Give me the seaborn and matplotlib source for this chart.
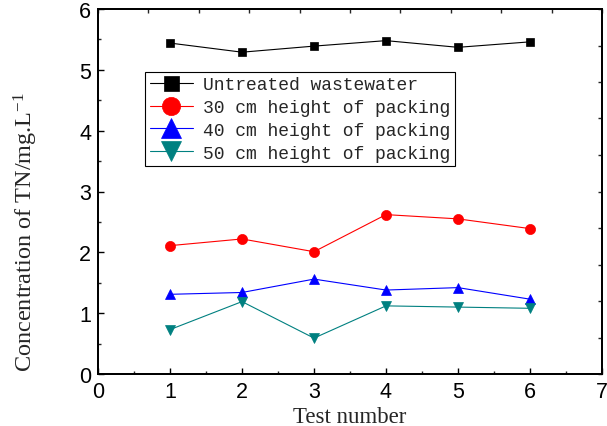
import numpy as np
import pandas as pd
import matplotlib
matplotlib.use("Agg")
import matplotlib.pyplot as plt
import seaborn as sns
from matplotlib.ticker import MultipleLocator
from matplotlib.font_manager import FontProperties

# ---- data ----
test_number = [1, 2, 3, 4, 5, 6]
untreated = [5.44, 5.29, 5.39, 5.48, 5.37, 5.46]
packing_30 = [2.11, 2.22, 2.01, 2.62, 2.55, 2.39]
packing_40 = [1.31, 1.34, 1.56, 1.38, 1.42, 1.23]
packing_50 = [0.73, 1.19, 0.59, 1.12, 1.10, 1.08]
series_labels = ["Untreated wastewater", "30 cm height of packing",
                 "40 cm height of packing", "50 cm height of packing"]
x_ticks = [0, 1, 2, 3, 4, 5, 6, 7]
y_ticks = [0, 1, 2, 3, 4, 5, 6]
x_label = "Test number"
y_label = r"Concentration of TN/mg.L$^{\mathregular{-1}}$"

# ---- style ----
sns.set_style("ticks")
plt.rcParams["font.family"] = ["Liberation Sans", "DejaVu Sans"]
plt.rcParams["mathtext.default"] = "regular"

W, H = 607, 427
fig = plt.figure(figsize=(W / 100, H / 100), dpi=100)
L, R, T, B = 98, 602, 10, 375
ax = fig.add_axes([L / W, 1 - B / H, (R - L) / W, (B - T) / H])

colors = ["#000000", "#FF0000", "#0000FF", "#008080"]
markers = ["s", "o", "^", "v"]
msizes = [6, 7.3, 7.8, 7.8]
series = [untreated, packing_30, packing_40, packing_50]

for vals, lab, c, m, ms in zip(series, series_labels, colors, markers, msizes):
    sns.lineplot(x=test_number, y=vals, ax=ax, color=c, marker=m,
                 markersize=ms, markeredgecolor=c, markeredgewidth=0.5,
                 linewidth=0.8, label=lab)

ax.set_xlim(0, 7)
ax.set_ylim(0, 6)
ax.set_xticks(x_ticks)
ax.set_yticks(y_ticks)
ax.xaxis.set_minor_locator(MultipleLocator(0.5))
ax.yaxis.set_minor_locator(MultipleLocator(0.5))
ax.tick_params(which="major", direction="in", length=4.5, width=1.0,
               labelsize=15.5, pad=5, top=False, right=False, colors="black")
ax.tick_params(which="minor", direction="in", length=2, width=1.0,
               top=False, right=False)
for s in ax.spines.values():
    s.set_visible(True)
    s.set_linewidth(1.2)
    s.set_color("black")

ax.set_xlabel(x_label, fontfamily="Liberation Serif", fontsize=16.5)
ax.set_ylabel(y_label, fontfamily="Liberation Serif", fontsize=17.5)
ax.xaxis.label.set_va("baseline")
ax.xaxis.set_label_coords(0.5, (B - 422.7) / (B - T))
ax.yaxis.label.set_va("baseline")
ax.yaxis.set_label_coords((33 - L) / (R - L), (B - 232.5) / (B - T))

# top / right frame ticks (unlabelled, 10 divisions)
axt = ax.twiny()
axt.set_xlim(0, 1)
axt.set_xticks(np.linspace(0, 1, 11))
axt.tick_params(axis="x", direction="in", length=3, width=1.0,
                labeltop=False, top=True)
axr = ax.twinx()
axr.set_ylim(0, 1)
axr.set_yticks(np.linspace(0, 1, 11))
axr.tick_params(axis="y", direction="in", length=3, width=1.0,
                labelright=False, right=True)
for a in (axt, axr):
    for s in a.spines.values():
        s.set_linewidth(1.2)
        s.set_color("black")

leg = ax.legend(loc="upper left",
                bbox_to_anchor=((145 - L) / (R - L), (B - 72.7) / (B - T)),
                borderaxespad=0, frameon=True, fancybox=False,
                edgecolor="black", framealpha=1,
                prop=FontProperties(family="Liberation Mono", size=13),
                markerscale=1.8, handlelength=2.4, handletextpad=0.55,
                borderpad=0.25, labelspacing=0.32)
leg.get_frame().set_linewidth(0.8)
leg.set_zorder(10)

fig.savefig("out.png", dpi=100)
